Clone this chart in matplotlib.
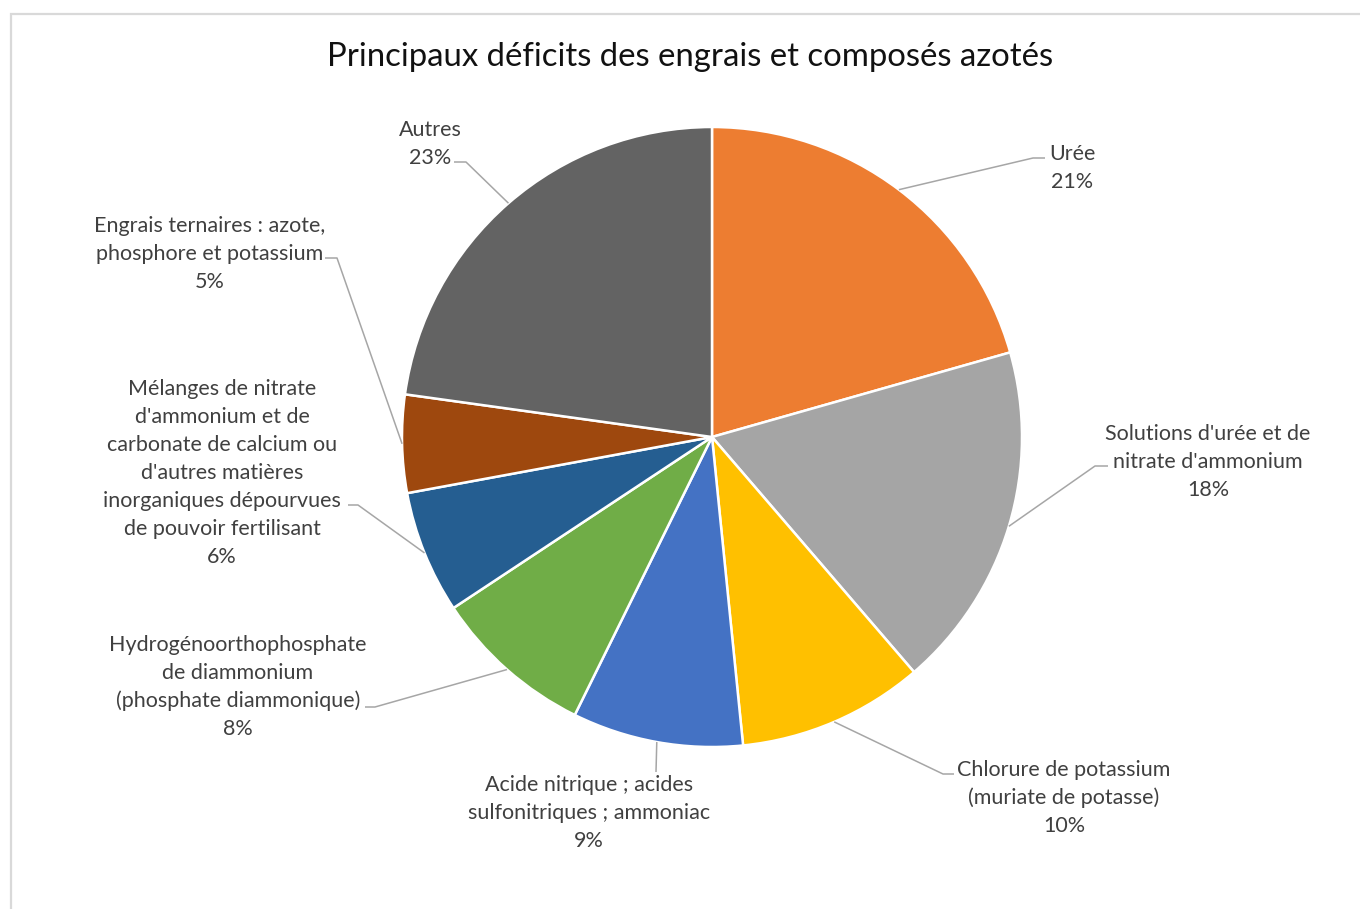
import numpy as np
import matplotlib
matplotlib.use("Agg")
import matplotlib.pyplot as plt
from matplotlib.patches import Rectangle

plt.rcParams['font.family'] = ['Lato', 'DejaVu Sans']

# shares of the deficits (in %)
categories = [
    "Urée",
    "Solutions d'urée et de\nnitrate d'ammonium",
    "Chlorure de potassium\n(muriate de potasse)",
    "Acide nitrique ; acides\nsulfonitriques ; ammoniac",
    "Hydrogénoorthophosphate\nde diammonium\n(phosphate diammonique)",
    "Mélanges de nitrate\nd'ammonium et de\ncarbonate de calcium ou\nd'autres matières\ninorganiques dépourvues\nde pouvoir fertilisant",
    "Engrais ternaires : azote,\nphosphore et potassium",
    "Autres",
]
values = [20.6, 18.1, 9.7, 8.9, 8.4, 6.4, 5.1, 22.8]
colors = ["#ED7D31", "#A5A5A5", "#FFC000", "#4472C4",
          "#70AD47", "#255E91", "#9E480E", "#636363"]

# label layout in pixels: block centre, text-side end of leader, elbow
label_xy = [(1072, 168), (1208, 462), (1064, 798), (589, 813),
            (238, 687), (222, 473), (210, 254), (430, 144)]
leader_end = [(1045, 158), (1108, 466), (954, 774), (656, 772),
              (365, 707), (348, 505), (325, 258), (454, 162)]
leader_elbow = [(1033, 158), (1095, 466), (943, 774), (656, 772),
                (375, 707), (358, 505), (337, 258), (466, 162)]

W, H = 1360, 909
cx, cy, R = 712, 437, 310

fig = plt.figure(figsize=(W / 100, H / 100), dpi=100)
fig.patch.set_facecolor("white")
fig.patches.append(Rectangle((11 / W, -0.1), 1.2, 1.1 - 14 / H,
                             transform=fig.transFigure, fill=False,
                             edgecolor="#D9D9D9", linewidth=1.6))

ax = fig.add_axes([(cx - R) / W, (H - cy - R) / H, 2 * R / W, 2 * R / H])
wedges, _ = ax.pie(values, colors=colors, startangle=90, counterclock=False,
                   radius=1, wedgeprops=dict(edgecolor="white", linewidth=1.8))
ax.set_xlim(-1, 1)
ax.set_ylim(-1, 1)
ax.set_aspect("equal")
ax.axis("off")


def px(p):
    return ((p[0] - cx) / R, (cy - p[1]) / R)


total = sum(values)
for w, name, v, lxy, le, lb in zip(wedges, categories, values,
                                   label_xy, leader_end, leader_elbow):
    mid = np.deg2rad((w.theta1 + w.theta2) / 2)
    edge = (np.cos(mid), np.sin(mid))
    pts = [edge, px(lb), px(le)]
    ax.plot([p[0] for p in pts], [p[1] for p in pts], color="#A6A6A6",
            linewidth=1.1, clip_on=False, solid_capstyle="butt")
    tx, ty = px(lxy)
    ax.text(tx, ty, f"{name}\n{round(v / total * 100)}%", ha="center",
            va="center", multialignment="center", fontsize=15.5,
            color="#404040", linespacing=1.5)

fig.text(690 / W, 1 - 57 / H, "Principaux déficits des engrais et composés azotés",
         ha="center", va="center", fontsize=23.7, color="#111111")

fig.savefig("out.png", dpi=100)
